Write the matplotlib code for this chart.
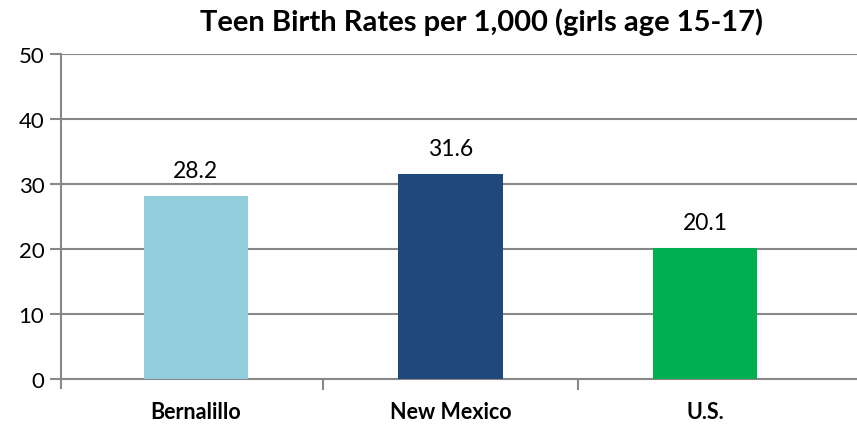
import matplotlib
matplotlib.use("Agg")
import matplotlib.pyplot as plt
from matplotlib.ticker import FixedLocator

categories = ["Bernalillo", "New Mexico", "U.S."]
values = [28.2, 31.6, 20.1]
labels = ["28.2", "31.6", "20.1"]
colors = ["#92CDDC", "#1F497D", "#00B050"]
title = "Teen Birth Rates per 1,000 (girls age 15-17)"

plt.rcParams['font.family'] = ['Lato', 'DejaVu Sans']

fig = plt.figure(figsize=(8.57, 4.27), dpi=100)
ax = fig.add_axes([61/857, 47/427, 796/857, 325/427])

x = list(range(len(categories)))
ax.bar(x, values, width=0.41, color=colors, zorder=3)
for xi, v, lab in zip(x, values, labels):
    ax.text(xi, v + 2.9, lab, ha='center', va='baseline', fontsize=16.5, color='#000000')

ax.set_xlim(-0.53, 2.597)
ax.set_ylim(0, 50)
ax.set_yticks([0, 10, 20, 30, 40, 50])
ax.tick_params(axis='y', labelsize=16, length=8, width=1.5, color='#888888', pad=4)
ax.yaxis.grid(True, color='#888888', linewidth=1.5, zorder=1)
ax.set_axisbelow(True)

ax.set_xticks(x)
ax.set_xticklabels(categories, fontsize=15.5, fontweight='bold')
ax.tick_params(axis='x', which='major', length=0, pad=16)
ax.xaxis.set_minor_locator(FixedLocator([0.5, 1.5]))
ax.tick_params(axis='x', which='minor', length=8, width=1.5, color='#888888')

for s in ['top', 'right']:
    ax.spines[s].set_visible(False)
ax.spines['bottom'].set_color('#888888')
ax.spines['bottom'].set_linewidth(1.5)
ax.spines['left'].set_color('#888888')
ax.spines['left'].set_linewidth(1.5)
ax.spines['left'].set_bounds(-1.4, 50)
ax.spines['left'].set_clip_on(False)

fig.text(481/857, 1 - 22/427, title, ha='center', va='center', fontsize=21, fontweight='bold')

fig.savefig("out.png", dpi=100)
